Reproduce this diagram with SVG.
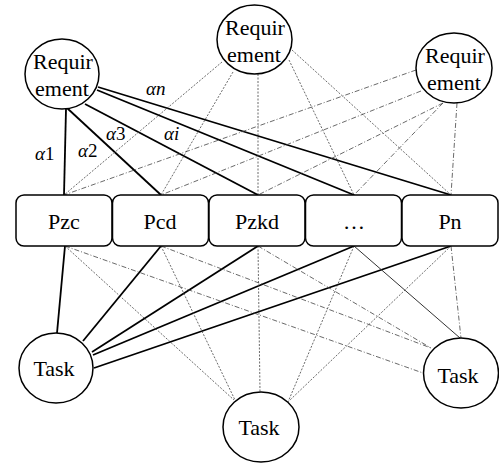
<svg xmlns="http://www.w3.org/2000/svg" width="499" height="463" viewBox="0 0 499 463">
<style>
.n{font-size:22px;text-anchor:middle}
.lb{font-size:19px}
.a{font-style:italic}
.node{fill:#fff;stroke:#000;stroke-width:1.5}
.s{stroke:#000;stroke-width:1.8;fill:none}
.t{stroke:#333;stroke-width:1;fill:none}
.d{stroke:#444;stroke-width:0.8;stroke-dasharray:2,1.5;fill:none}
.dd{stroke:#444;stroke-width:0.8;stroke-dasharray:5,2,1,2;fill:none}
</style>
<g font-family="Liberation Serif">
<g id="connectors">
<line class="s" x1="66" y1="109" x2="64" y2="195"/>
<line class="s" x1="67" y1="108" x2="161" y2="195"/>
<line class="s" x1="85" y1="104" x2="258" y2="195"/>
<line class="s" x1="97" y1="90" x2="354" y2="195"/>
<line class="s" x1="98" y1="87" x2="451" y2="195"/>
<line class="d" x1="222" y1="62" x2="64" y2="195"/>
<line class="d" x1="233" y1="72" x2="161" y2="195"/>
<line class="d" x1="258" y1="74" x2="258" y2="195"/>
<line class="d" x1="289" y1="60" x2="354" y2="195"/>
<line class="d" x1="292" y1="50" x2="451" y2="195"/>
<line class="dd" x1="416" y1="70" x2="64" y2="195"/>
<line class="dd" x1="421" y1="91" x2="161" y2="195"/>
<line class="dd" x1="443" y1="103" x2="258" y2="195"/>
<line class="dd" x1="443" y1="103" x2="354" y2="195"/>
<line class="dd" x1="457" y1="103" x2="451" y2="195"/>
<line class="s" x1="65" y1="246" x2="57" y2="333"/>
<line class="s" x1="161" y1="246" x2="83" y2="341"/>
<line class="s" x1="258" y1="246" x2="92" y2="352"/>
<line class="s" x1="354" y1="246" x2="93" y2="355"/>
<line class="s" x1="451" y1="246" x2="94" y2="368"/>
<line class="d" x1="65" y1="246" x2="234" y2="400"/>
<line class="d" x1="161" y1="246" x2="235" y2="400"/>
<line class="d" x1="258" y1="246" x2="260" y2="392"/>
<line class="d" x1="354" y1="246" x2="288" y2="402"/>
<line class="d" x1="451" y1="246" x2="289" y2="401"/>
<line class="dd" x1="65" y1="246" x2="423" y2="373"/>
<line class="dd" x1="161" y1="246" x2="431" y2="348"/>
<line class="dd" x1="258" y1="246" x2="431" y2="348"/>
<line class="t" x1="354" y1="246" x2="460" y2="338"/>
<line class="dd" x1="451" y1="246" x2="461" y2="338"/>
</g>
<g id="labels">
<text class="lb" x="35" y="160"><tspan class="a">α</tspan>1</text>
<text class="lb" x="78" y="157"><tspan class="a">α</tspan>2</text>
<text class="lb" x="106" y="140"><tspan class="a">α</tspan>3</text>
<text class="lb a" x="164" y="140">αi</text>
<text class="lb a" x="146" y="95">αn</text>
</g>
<g id="req1"><ellipse class="node" cx="62" cy="74" rx="37" ry="35"/><text class="n" x="63" y="69">Requir</text><text class="n" x="62" y="96">ement</text></g>
<g id="req2"><ellipse class="node" cx="254.5" cy="39.5" rx="37.5" ry="34.5"/><text class="n" x="255" y="35">Requir</text><text class="n" x="254" y="62">ement</text></g>
<g id="req3"><ellipse class="node" cx="454" cy="68" rx="38" ry="35"/><text class="n" x="455" y="63">Requir</text><text class="n" x="454" y="90">ement</text></g>
<g id="pzc"><rect class="node" x="16" y="195" width="96" height="51" rx="8"/><text class="n" x="64" y="229">Pzc</text></g>
<g id="pcd"><rect class="node" x="112.5" y="195" width="96" height="51" rx="8"/><text class="n" x="160" y="229">Pcd</text></g>
<g id="pzkd"><rect class="node" x="209" y="195" width="96" height="51" rx="8"/><text class="n" x="257" y="229">Pzkd</text></g>
<g id="pdots"><rect class="node" x="305.5" y="195" width="96" height="51" rx="8"/><text class="n" x="354" y="229">…</text></g>
<g id="pn"><rect class="node" x="402" y="195" width="96" height="51" rx="8"/><text class="n" x="450" y="229">Pn</text></g>
<g id="task1"><ellipse class="node" cx="56" cy="368" rx="37" ry="35"/><text class="n" x="54" y="376">Task</text></g>
<g id="task2"><ellipse class="node" cx="261" cy="427" rx="38" ry="35"/><text class="n" x="259" y="435">Task</text></g>
<g id="task3"><ellipse class="node" cx="461" cy="373" rx="37.5" ry="35"/><text class="n" x="458" y="383">Task</text></g>
</g>
</svg>
